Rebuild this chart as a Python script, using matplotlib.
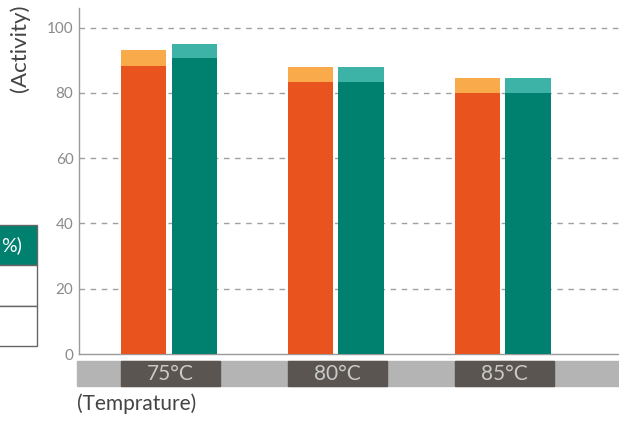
import matplotlib
matplotlib.use("Agg")
import matplotlib.pyplot as plt
from matplotlib.patches import Rectangle
import matplotlib.transforms as mtransforms

categories = ["75°C", "80°C", "85°C"]
orange_base = [88.3, 83.3, 80.0]
orange_extra = [4.7, 4.6, 4.7]
teal_base = [90.6, 83.2, 79.9]
teal_extra = [4.5, 4.6, 4.6]
yticks = [0, 20, 40, 60, 80, 100]

FONT = ["Lato", "DejaVu Sans"]
plt.rcParams['font.family'] = FONT

W, H = 619, 421
fig = plt.figure(figsize=(W / 100, H / 100), dpi=100)
fig.patch.set_facecolor("white")

def fx(px):
    return px / W

def fy(py):
    return 1 - py / H

ax_left, ax_right, ax_top, ax_bot = 79, 619, 8, 354
ax = fig.add_axes([fx(ax_left), fy(ax_bot), fx(ax_right - ax_left), (ax_bot - ax_top) / H])

ORANGE = "#e9541e"
ORANGE_L = "#f9ab4c"
TEAL = "#00806f"
TEAL_L = "#3cb3a6"

x = list(range(len(categories)))
bw = 0.272
off = 0.151
ax.bar([i - off for i in x], orange_base, width=bw, color=ORANGE, zorder=3)
ax.bar([i - off for i in x], orange_extra, bottom=orange_base, width=bw, color=ORANGE_L, zorder=3)
ax.bar([i + off for i in x], teal_base, width=bw, color=TEAL, zorder=3)
ax.bar([i + off for i in x], teal_extra, bottom=teal_base, width=bw, color=TEAL_L, zorder=3)

ax.set_xlim(-0.539, 2.695)
ax.set_ylim(0, 106)
ax.set_yticks(yticks)
ax.set_yticklabels([str(v) for v in yticks], fontsize=11, color="#8a8a8a")
ax.tick_params(axis="y", length=0, pad=4)
ax.set_xticks([])
for v in yticks[1:]:
    ax.axhline(v, color="#a0a0a0", lw=1.0, ls=(0, (4, 4)), zorder=1)
for s in ["top", "right"]:
    ax.spines[s].set_visible(False)
ax.spines["left"].set_color("#9a9a9a")
ax.spines["bottom"].set_color("#9a9a9a")
ax.spines["left"].set_linewidth(1.0)
ax.spines["bottom"].set_linewidth(1.0)

# grey band with category labels
ax.add_patch(Rectangle((fx(77), fy(386)), fx(619 - 77), (386 - 361) / H,
                       transform=fig.transFigure, color="#b4b4b4", clip_on=False, zorder=1))
trans = mtransforms.blended_transform_factory(ax.transData, fig.transFigure)
box_w = 0.59
for i, c in enumerate(categories):
    ax.add_patch(Rectangle((i + 0.01 - box_w / 2, fy(386)), box_w, (386 - 361) / H,
                           transform=trans, color="#5a5550", clip_on=False, zorder=2))
    ax.text(i + 0.01, fy(373.5), c, transform=trans, ha="center", va="center",
            fontsize=15, color="#c9c9c9", clip_on=False, zorder=3)

fig.text(fx(77), fy(404), "(Temprature)", ha="left", va="center", fontsize=15, color="#444444")
fig.text(fx(20), fy(48), "(Activity)", ha="center", va="center", rotation=90,
         fontsize=16, color="#444444")

# partial table at left
fig.patches.append(Rectangle((fx(-5), fy(265)), fx(42), 40 / H, transform=fig.transFigure,
                             facecolor=TEAL, edgecolor="#666666", lw=1.0))
fig.patches.append(Rectangle((fx(-5), fy(306)), fx(42), 41 / H, transform=fig.transFigure,
                             facecolor="white", edgecolor="#666666", lw=1.0))
fig.patches.append(Rectangle((fx(-5), fy(346)), fx(42), 40 / H, transform=fig.transFigure,
                             facecolor="white", edgecolor="#666666", lw=1.0))
fig.text(fx(1), fy(245), "%)", ha="left", va="center", fontsize=14, color="white")

fig.savefig("out.png", dpi=100)
